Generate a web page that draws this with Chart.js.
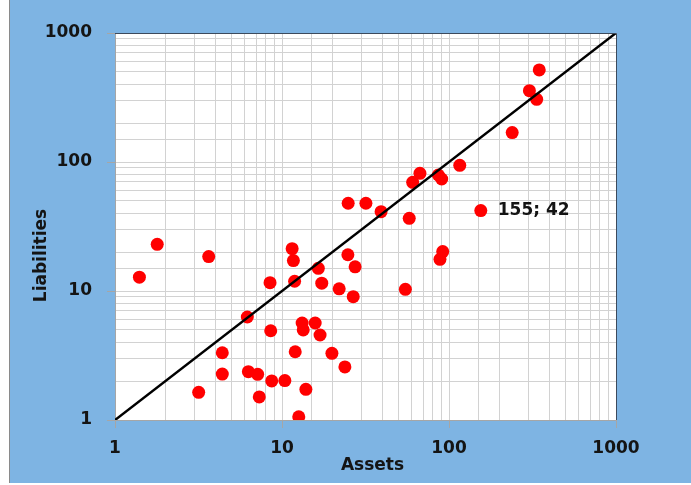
<!DOCTYPE html>
<html>
<head>
<meta charset="utf-8">
<script src="https://cdn.jsdelivr.net/npm/chart.js@4.4.1/dist/chart.umd.min.js"></script>
<style>
  html, body { margin: 0; padding: 0; background: #ffffff; }
  canvas { display: block; }
</style>
</head>
<body>
<canvas id="c" width="691" height="485"></canvas>
<script>
// ---- data ----
const assets = [1.4, 1.79, 3.64, 3.17, 4.39, 4.39, 6.2, 6.29, 7.15, 7.31,
  8.48, 8.56, 8.68, 10.4, 11.5, 11.7, 11.9, 12.0, 12.6, 13.2,
  13.4, 13.9, 15.8, 16.5, 16.9, 17.3, 19.9, 22.0, 23.8, 24.8,
  24.9, 26.7, 27.4, 31.8, 39.2, 54.8, 57.8, 60.6, 67.0, 86.3,
  90.4, 88.3, 91.7, 116, 155, 239, 303, 335, 347];
const liabilities = [12.8, 23.0, 18.5, 1.64, 3.32, 2.27, 6.29, 2.37, 2.26, 1.51,
  11.6, 4.92, 2.01, 2.02, 21.3, 17.2, 11.9, 3.38, 1.06, 5.65,
  4.99, 1.73, 5.65, 15.0, 4.56, 11.5, 3.29, 10.4, 2.58, 19.1,
  47.9, 9.03, 15.4, 47.9, 41.2, 10.3, 36.6, 69.6, 81.7, 79.3,
  73.8, 17.6, 20.2, 94.3, 42, 169, 357, 306, 517];
const diagonalX = [1, 1000];
const diagonalY = [1, 1000];
const labelledPoint = [155, 42];
const tickLabels = [1, 10, 100, 1000];
const xTitle = 'Assets';
const yTitle = 'Liabilities';

const points = assets.map((a, i) => ({x: a, y: liabilities[i]}));
const diagonal = diagonalX.map((v, i) => ({x: v, y: diagonalY[i]}));

const BLUE = 'rgb(126,180,227)';
const GRID = '#d2d2d2';
const FONT = {family: 'DejaVu Sans', size: 17, weight: 'bold'};

const bgPlugin = {
  id: 'bg',
  beforeDraw(chart) {
    const ctx = chart.ctx, a = chart.chartArea;
    ctx.save();
    ctx.fillStyle = '#ffffff';
    ctx.fillRect(0, 0, chart.width, chart.height);
    ctx.fillStyle = BLUE;
    ctx.fillRect(9, 0, chart.width - 9, 483);
    ctx.fillStyle = '#8a8a8a';
    ctx.fillRect(9, 0, 1, 483);
    ctx.fillStyle = '#ffffff';
    ctx.fillRect(a.left, a.top, a.right - a.left, a.bottom - a.top);
    ctx.restore();
  },
  afterDraw(chart) {
    const ctx = chart.ctx, a = chart.chartArea;
    ctx.save();
    ctx.strokeStyle = '#3c4a5c';
    ctx.lineWidth = 1;
    ctx.beginPath();
    ctx.moveTo(a.left, a.top + 0.5);
    ctx.lineTo(a.right + 0.5, a.top + 0.5);
    ctx.lineTo(a.right + 0.5, a.bottom);
    ctx.stroke();
    ctx.restore();
  }
};

const labelPlugin = {
  id: 'pointLabel',
  afterDatasetsDraw(chart) {
    const ctx = chart.ctx;
    const px = chart.scales.x.getPixelForValue(labelledPoint[0]);
    const py = chart.scales.y.getPixelForValue(labelledPoint[1]);
    ctx.save();
    ctx.font = 'bold 17px "DejaVu Sans"';
    ctx.fillStyle = '#141414';
    ctx.textAlign = 'left';
    ctx.textBaseline = 'middle';
    ctx.fillText(labelledPoint[0] + '; ' + labelledPoint[1], px + 17, py);
    ctx.restore();
  }
};

const titleShiftPlugin = {
  id: 'titleShift',
  afterLayout(chart) {
    const shifts = {x: [7, 0], y: [0, 29]};
    for (const id of ['x', 'y']) {
      const s = chart.scales[id];
      if (s && !s._shifted) {
        const orig = s.drawTitle.bind(s);
        const [dx, dy] = shifts[id];
        s.drawTitle = function () {
          this.ctx.save();
          this.ctx.translate(dx, dy);
          orig();
          this.ctx.restore();
        };
        s._shifted = true;
      }
    }
  }
};

const tickColor = (c) => tickLabels.includes(c.tick && c.tick.value) ? '#a6a6a6' : 'rgba(0,0,0,0)';
const tickCb = (v) => tickLabels.includes(v) ? String(v) : '';

new Chart(document.getElementById('c'), {
  type: 'scatter',
  data: {
    datasets: [
      {
        data: diagonal,
        showLine: true,
        borderColor: '#000000',
        borderWidth: 2.5,
        pointRadius: 0,
        fill: false
      },
      {
        data: points,
        backgroundColor: '#ff0000',
        borderWidth: 0,
        pointRadius: 6.5,
        pointHoverRadius: 6.5
      }
    ]
  },
  options: {
    responsive: false,
    animation: false,
    events: [],
    layout: {padding: {left: 9, top: 33, right: 75, bottom: 0}},
    plugins: {legend: {display: false}, tooltip: {enabled: false}},
    scales: {
      x: {
        type: 'logarithmic',
        min: 1, max: 1000,
        afterFit(s) { s.height = 65; },
        grid: {color: GRID, lineWidth: 1, tickLength: 8, tickColor: tickColor, drawTicks: true},
        border: {color: '#a6a6a6', width: 1},
        ticks: {callback: tickCb, autoSkip: false, maxRotation: 0, minRotation: 0,
                padding: 10, color: '#141414', font: FONT},
        title: {display: true, text: xTitle, color: '#141414', font: FONT,
                padding: {top: 0, bottom: 9}}
      },
      y: {
        type: 'logarithmic',
        min: 1, max: 1000,
        afterFit(s) { s.width = 106; },
        grid: {color: GRID, lineWidth: 1, tickLength: 8, tickColor: tickColor, drawTicks: true},
        border: {color: '#a6a6a6', width: 1},
        ticks: {callback: tickCb, autoSkip: false, padding: 15, color: '#141414', font: FONT},
        title: {display: true, text: yTitle, color: '#141414', font: FONT,
                padding: {top: 22, bottom: 0}}
      }
    }
  },
  plugins: [bgPlugin, labelPlugin, titleShiftPlugin]
});
</script>
</body>
</html>
